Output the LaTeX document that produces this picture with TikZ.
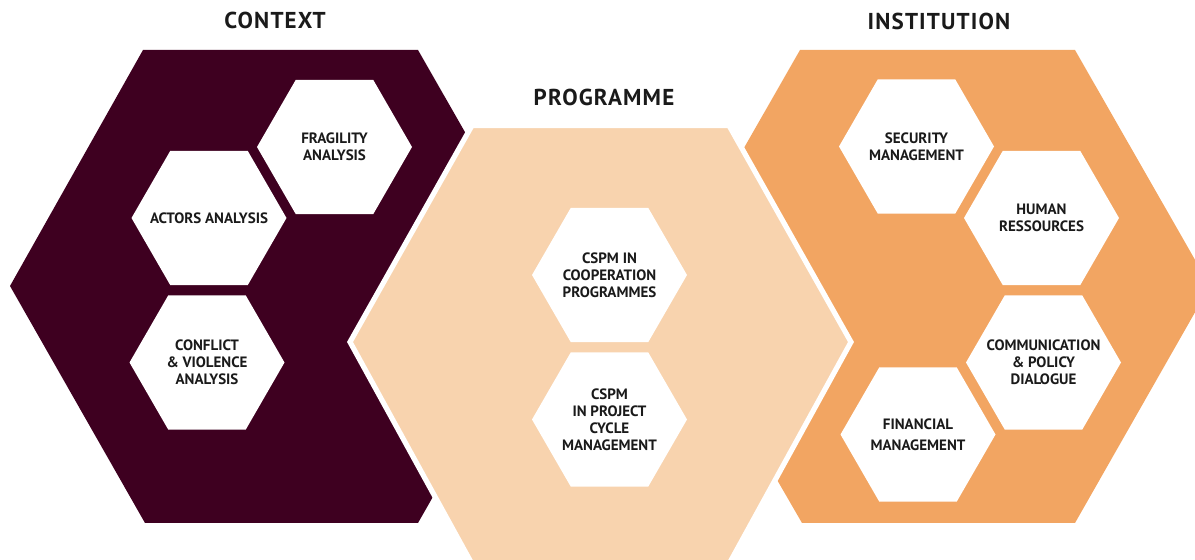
\documentclass[tikz,border=0pt]{standalone}
\usepackage{fontspec}
\setmainfont{PT Sans}
\usetikzlibrary{shapes.geometric}
\definecolor{ctxcol}{HTML}{3E0020}
\definecolor{progcol}{HTML}{F8D3AE}
\definecolor{instcol}{HTML}{F2A562}
\definecolor{txtcol}{HTML}{1A1A1A}

\begin{document}
\begin{tikzpicture}[x=0.5pt,y=-0.5pt,
    cell/.style={regular polygon,regular polygon sides=6,minimum size=77.5pt,inner sep=-12pt,fill=white,align=center,text=txtcol,font=\fontsize{7.5}{8.5}\selectfont\bfseries},
    title/.style={text=txtcol,font=\fontsize{11.5}{14}\selectfont\bfseries\addfontfeatures{LetterSpace=5}}]
    \useasboundingbox(0,0)rectangle(1195,560);
    \fill[ctxcol](143,50)--(418,50)--(553,286)--(418,523)--(145,523)--(10,286)--cycle;
    \fill[instcol](800,50)--(1075,50)--(1210,286)--(1075,523)--(802,523)--(665,286)--cycle;
    \filldraw[fill=progcol,draw=white,line width=2.6pt](350,342)--(472,125.5)--(729,125.5)--(851,342)--(729,564)--(472,564)--cycle;
    \node[title](ctx)at(275,20){CONTEXT};
    \node[title](prog)at(604,97){PROGRAMME};
    \node[title](inst)at(939,21){INSTITUTION};
    \node[cell](frag)at(334.5,147){FRAGILITY\\ANALYSIS};
    \node[cell](actors)at(209,218){ACTORS ANALYSIS};
    \node[cell](conflict)at(207,362.5){CONFLICT\\\& VIOLENCE\\ANALYSIS};
    \node[cell](coop)at(609.5,275){CSPM IN\\COOPERATION\\PROGRAMMES};
    \node[cell](cycle)at(609.5,419.5){CSPM\\IN PROJECT\\CYCLE\\MANAGEMENT};
    \node[cell](secu)at(916.5,146.5){SECURITY\\MANAGEMENT};
    \node[cell](human)at(1041.5,218){HUMAN\\RESSOURCES};
    \node[cell](comm)at(1043.5,362.5){COMMUNICATION\\\& POLICY\\DIALOGUE};
    \node[cell](fin)at(918,434.5){FINANCIAL\\[2pt]MANAGEMENT};
\end{tikzpicture}
\end{document}
